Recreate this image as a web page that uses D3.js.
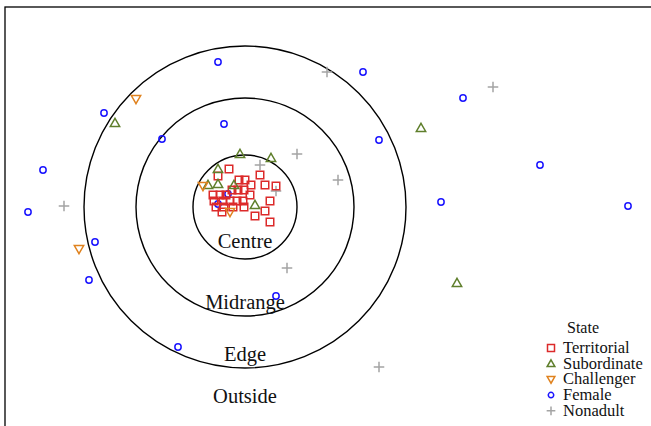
<!DOCTYPE html>
<html>
<head>
<meta charset="utf-8">
<script src="https://cdn.jsdelivr.net/npm/d3@7"></script>
<style>
  html, body { margin: 0; padding: 0; background: #fff; }
  svg { display: block; }
  text { font-family: "Liberation Serif", "Times New Roman", serif; fill: #111; }
</style>
</head>
<body>
<svg id="chart" width="651" height="426"></svg>
<script>
// Positions in metres relative to the territory centre (east = +x, north = +y)
const territorial = [
  [-8,19],[-13.5,15.5],[7.5,16],[-3,13.5],[0,13.5],[3,11],[10,11],[15.5,10.5],
  [-3.5,8.5],[-0.5,8.5],[-6.5,8.5],[-16,6],[-12.5,6],[-9.5,6],[2.5,6],
  [-15.5,3],[-11,3],[-7.5,3],[-4,3],[-1,3],[12.5,3],
  [-14.5,0],[-10.5,0],[-6,0],[-0.5,0],[10,-2],[-11.5,-2.5],[5,-4.5],[12.5,-7.5]
];
const subordinate = [
  [-65,42],[88,39.5],[106,-38],[-2.5,26.5],[13,24.5],
  [-13.5,19],[-18.5,11],[-13.5,11.5],[-5.5,11],[5,1]
];
const challenger = [
  [-54.5,54],[-83,-21],[-21,10.5],[-7.5,-2.5]
];
const female = [
  [-13.5,72.5],[59,67.5],[109,54.5],[-70.5,47],[-10.5,41.5],[-41.5,34],
  [67,33.5],[-101,18.5],[147.5,21],[-108.5,-2.5],[98,2.5],[191.5,0.5],
  [-75,-17.5],[-78,-36.5],[15.5,-44.5],[-33.5,-70],[-8.5,6.5],[-13.5,1.5]
];
const nonadult = [
  [41,67.5],[124,60],[26,26.5],[46.5,13.5],[-90.5,0.5],[21,-30.5],
  [67,-80],[7.5,21],[15.5,8]
];

// Zone boundaries (radius in metres) and their labels
const ringRadii = [26, 54.5, 80.5];
const zoneLabels = ["Centre", "Midrange", "Edge", "Outside"];
const zoneLabelY = [-20.5, -51, -77, -98];

const stateNames = ["Territorial", "Subordinate", "Challenger", "Female", "Nonadult"];
const stateColors = ["#dc2a2a", "#5f7f2c", "#e0821e", "#1a14ff", "#a4a4a4"];

const svg = d3.select("#chart");

const x = d3.scaleLinear().domain([-120, 203]).range([5, 651]);
const y = d3.scaleLinear().domain([100, -110]).range([7, 427]);
const pxPerM = x(1) - x(0);

// Plot frame (extends past the right and bottom of the view)
svg.append("rect")
  .attr("x", x(-120)).attr("y", y(100))
  .attr("width", 700).attr("height", 500)
  .attr("fill", "none").attr("stroke", "#000").attr("stroke-width", 1.3);

// Zone rings
svg.append("g").selectAll("circle")
  .data(ringRadii).join("circle")
  .attr("cx", x(0)).attr("cy", y(0))
  .attr("r", d => d * pxPerM)
  .attr("fill", "none").attr("stroke", "#000").attr("stroke-width", 1.4);

// Zone labels
svg.append("g").selectAll("text")
  .data(zoneLabels).join("text")
  .attr("x", x(0)).attr("y", (d, i) => y(zoneLabelY[i]))
  .attr("text-anchor", "middle")
  .style("font-size", "20.5px")
  .text(d => d);

// Symbol generators
const sym = {
  square: (g, s) => g.append("rect").attr("x", -s/2).attr("y", -s/2).attr("width", s).attr("height", s),
  up: (g, s) => g.append("path").attr("d", `M0,${-s*0.55}L${s*0.55},${s*0.4}L${-s*0.55},${s*0.4}Z`),
  down: (g, s) => g.append("path").attr("d", `M0,${s*0.55}L${s*0.55},${-s*0.4}L${-s*0.55},${-s*0.4}Z`),
  circle: (g, s) => g.append("circle").attr("r", s*0.42),
  plus: (g, s) => g.append("path").attr("d", `M${-s*0.62},0H${s*0.62}M0,${-s*0.62}V${s*0.62}`)
};
const stateSym = ["square", "up", "down", "circle", "plus"];
const stateData = [territorial, subordinate, challenger, female, nonadult];
const markSize = [7.5, 8.5, 8.5, 7.5, 8.5];

function drawSeries(i) {
  const g = svg.append("g")
    .attr("fill", "none")
    .attr("stroke", stateColors[i])
    .attr("stroke-width", 1.5);
  g.selectAll("g").data(stateData[i]).join("g")
    .attr("transform", d => `translate(${x(d[0])},${y(d[1])})`)
    .each(function() { sym[stateSym[i]](d3.select(this), markSize[i]); });
}
[3, 4, 0, 1, 2].forEach(drawSeries);

// Legend
const legend = svg.append("g").attr("transform", "translate(551,0)");
legend.append("text").attr("x", 16).attr("y", 333)
  .style("font-size", "16px").text("State");
stateNames.forEach((name, i) => {
  const by = 353 + i * 15.7;
  const gs = legend.append("g")
    .attr("transform", `translate(0,${by - 5})`)
    .attr("fill", "none").attr("stroke", stateColors[i]).attr("stroke-width", 1.5);
  sym[stateSym[i]](gs, i === 3 ? 6.5 : 7);
  legend.append("text").attr("x", 12).attr("y", by)
    .style("font-size", "16.5px").text(name);
});
</script>
</body>
</html>
